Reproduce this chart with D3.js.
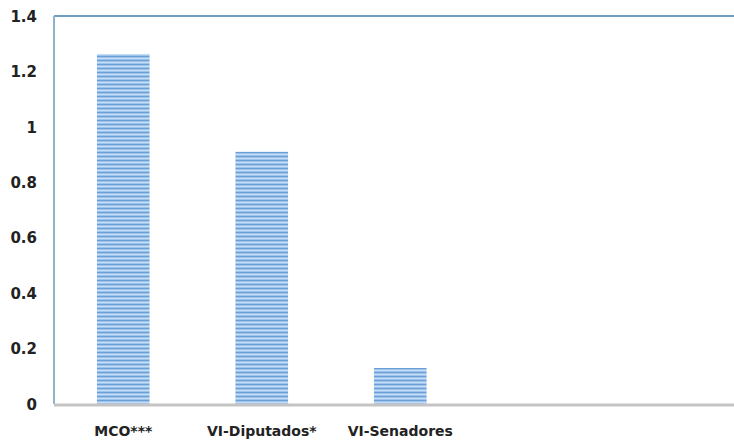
<!DOCTYPE html>
<html>
<head>
<meta charset="utf-8">
<script src="https://cdn.jsdelivr.net/npm/d3@7"></script>
<style>
  html, body { margin: 0; padding: 0; background: #fff; }
  svg { display: block; }
  .tick text { font-family: "DejaVu Sans", sans-serif; font-weight: bold; fill: #222; }
</style>
</head>
<body>
<svg id="chart" width="734" height="443"></svg>
<script>
const categories = ["MCO***", "VI-Diputados*", "VI-Senadores"];
const values = [1.263, 0.91, 0.13];
const yTicks = [0, 0.2, 0.4, 0.6, 0.8, 1, 1.2, 1.4];

const svg = d3.select("#chart");
const plotLeft = 54, plotTop = 16, plotBottom = 404, plotRight = 746;
const band = 138.5;

const x = d3.scaleBand()
  .domain(categories)
  .range([plotLeft, plotLeft + band * categories.length])
  .paddingInner(0.62)
  .paddingOuter(0.31);

const y = d3.scaleLinear().domain([0, 1.4]).range([plotBottom, plotTop]);

// striped fill for the bars
const defs = svg.append("defs");
const pat = defs.append("pattern")
  .attr("id", "stripes")
  .attr("patternUnits", "userSpaceOnUse")
  .attr("width", 4).attr("height", 4);
pat.append("rect").attr("width", 4).attr("height", 4).attr("fill", "#9fc4ec");
pat.append("rect").attr("y", 0).attr("width", 4).attr("height", 1).attr("fill", "#6c9fd8");
pat.append("rect").attr("y", 2).attr("width", 4).attr("height", 1).attr("fill", "#c6dcf4");

// plot frame
svg.append("line").attr("x1", plotLeft).attr("x2", plotRight).attr("y1", plotTop).attr("y2", plotTop)
  .attr("stroke", "#6f9ec0").attr("stroke-width", 2);
svg.append("line").attr("x1", plotLeft).attr("x2", plotLeft).attr("y1", plotTop).attr("y2", plotBottom)
  .attr("stroke", "#8fb4ca").attr("stroke-width", 2);

// bars
svg.append("g").selectAll("rect")
  .data(categories.map((c, i) => ({ c, v: values[i] })))
  .join("rect")
  .attr("x", d => x(d.c))
  .attr("width", x.bandwidth())
  .attr("y", d => y(d.v))
  .attr("height", d => y(0) - y(d.v))
  .attr("fill", "url(#stripes)");

// baseline
svg.append("line").attr("x1", plotLeft).attr("x2", plotRight).attr("y1", plotBottom + 1).attr("y2", plotBottom + 1)
  .attr("stroke", "#c4c4c4").attr("stroke-width", 3);

// y axis labels
const yAxis = d3.axisLeft(y).tickValues(yTicks).tickSize(0).tickPadding(0)
  .tickFormat(d => String(d));
const gy = svg.append("g").attr("transform", "translate(37,0)").call(yAxis);
gy.select(".domain").remove();
gy.selectAll("text").attr("font-size", 15).attr("dy", "0.35em");

// x axis labels
const xAxis = d3.axisBottom(x).tickSize(0).tickPadding(0);
const gx = svg.append("g").attr("transform", `translate(0,${plotBottom + 22})`).call(xAxis);
gx.select(".domain").remove();
gx.selectAll("text").attr("font-size", 14).attr("dy", "0.71em");
</script>
</body>
</html>
